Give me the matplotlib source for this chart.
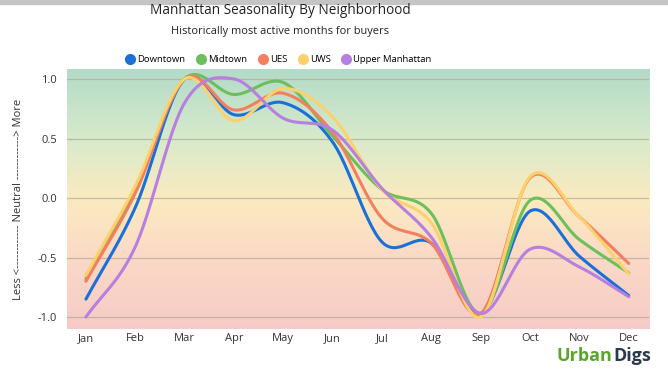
import numpy as np
import matplotlib
matplotlib.use("Agg")
import matplotlib.pyplot as plt
from matplotlib.colors import LinearSegmentedColormap
from matplotlib.lines import Line2D

plt.rcParams['font.family'] = ['Open Sans', 'DejaVu Sans']

months = ['Jan', 'Feb', 'Mar', 'Apr', 'May', 'Jun', 'Jul', 'Aug', 'Sep', 'Oct', 'Nov', 'Dec']
downtown = [-0.85, -0.08, 1.0, 0.70, 0.80, 0.47, -0.37, -0.38, -0.97, -0.11, -0.49, -0.82]
midtown = [-0.68, 0.08, 1.0, 0.87, 0.97, 0.52, 0.07, -0.13, -0.97, -0.02, -0.35, -0.63]
ues = [-0.70, 0.04, 1.0, 0.74, 0.88, 0.55, -0.17, -0.38, -0.97, 0.17, -0.16, -0.55]
uws = [-0.65, 0.10, 1.0, 0.65, 0.92, 0.68, 0.07, -0.21, -1.0, 0.18, -0.16, -0.64]
upper = [-1.0, -0.41, 0.80, 1.0, 0.67, 0.57, 0.08, -0.33, -0.97, -0.43, -0.58, -0.83]

series = [
    ('Downtown', downtown, '#1c6fd9'),
    ('Midtown', midtown, '#6cbf5b'),
    ('UES', ues, '#f47f5e'),
    ('UWS', uws, '#fcd16b'),
    ('Upper Manhattan', upper, '#b67fe0'),
]


def smooth(y, n=30):
    # cardinal (catmull-rom) spline through the monthly points
    y = np.asarray(y, float)
    m = np.zeros_like(y)
    m[1:-1] = (y[2:] - y[:-2]) / 2
    m[0] = y[1] - y[0]
    m[-1] = y[-1] - y[-2]
    xs, ys = [], []
    for i in range(len(y) - 1):
        t = np.linspace(0, 1, n, endpoint=False)
        h00 = 2 * t**3 - 3 * t**2 + 1
        h10 = t**3 - 2 * t**2 + t
        h01 = -2 * t**3 + 3 * t**2
        h11 = t**3 - t**2
        xs.append(i + t)
        ys.append(h00 * y[i] + h10 * m[i] + h01 * y[i + 1] + h11 * m[i + 1])
    xs.append([len(y) - 1])
    ys.append([y[-1]])
    return np.concatenate(xs), np.concatenate(ys)


fig = plt.figure(figsize=(6.68, 3.70), dpi=100)
ax = fig.add_axes([0.0998, 0.111, 0.8718, 0.7025])

xlim = (-0.39, 11.41)
ylim = (-1.10, 1.084)

cmap = LinearSegmentedColormap.from_list('bg', [
    (0.0, '#f6cbc7'),
    (0.27, '#fad9c6'),
    (0.50, '#fbebc0'),
    (0.73, '#d8eacb'),
    (1.0, '#b3dbc9'),
])
grad = np.linspace(0, 1, 256).reshape(-1, 1)
ax.imshow(grad, aspect='auto', cmap=cmap, origin='lower',
          extent=[xlim[0], xlim[1], ylim[0], ylim[1]], zorder=0)

for yv in [-1.0, -0.5, 0.0, 0.5, 1.0]:
    ax.axhline(yv, color='#b8ad98', lw=0.9, alpha=0.8, zorder=1)

for name, vals, col in series:
    xs, ys = smooth(vals)
    ax.plot(xs, ys, color=col, lw=2.2, solid_capstyle='round', zorder=3)

ax.set_xlim(*xlim)
ax.set_ylim(*ylim)
ax.set_xticks(range(12))
ax.set_xticklabels(months)
ax.set_yticks([-1.0, -0.5, 0.0, 0.5, 1.0])
ax.set_yticklabels(['-1.0', '-0.5', '0.0', '0.5', '1.0'])
ax.tick_params(axis='x', length=0, labelsize=8, colors='#333333', pad=3)
ax.tick_params(axis='y', length=0, labelsize=8, colors='#333333', pad=7)
for s in ax.spines.values():
    s.set_visible(False)
ax.set_ylabel('Less <------------ Neutral ------------> More', fontsize=8,
              color='#333333', labelpad=10)

fig.text(0.419, 0.972, 'Manhattan Seasonality By Neighborhood', ha='center',
         va='center', fontsize=9.8, color='#222222')
fig.text(0.419, 0.915, 'Historically most active months for buyers', ha='center',
         va='center', fontsize=7.9, color='#222222')

handles = [Line2D([], [], marker='o', ls='', markersize=7, color=c,
                  label=n) for n, _, c in series]
fig.legend(handles=handles, loc='center', bbox_to_anchor=(0.418, 0.838), ncol=5,
           frameon=False, fontsize=6.8, handlelength=0.7, handletextpad=0.4,
           columnspacing=1.3)

fig.text(0.833, 0.038, 'Urban', ha='left', va='center', fontsize=13,
         fontweight='bold', color='#5aa52b')
fig.text(0.918, 0.038, 'Digs', ha='left', va='center', fontsize=13,
         fontweight='bold', color='#2b3a4b')

fig.patches.append(plt.Rectangle((0, 0.99), 1, 0.01, transform=fig.transFigure,
                                 color='#c4c4c4', zorder=0))

fig.savefig('out.png', dpi=100)
